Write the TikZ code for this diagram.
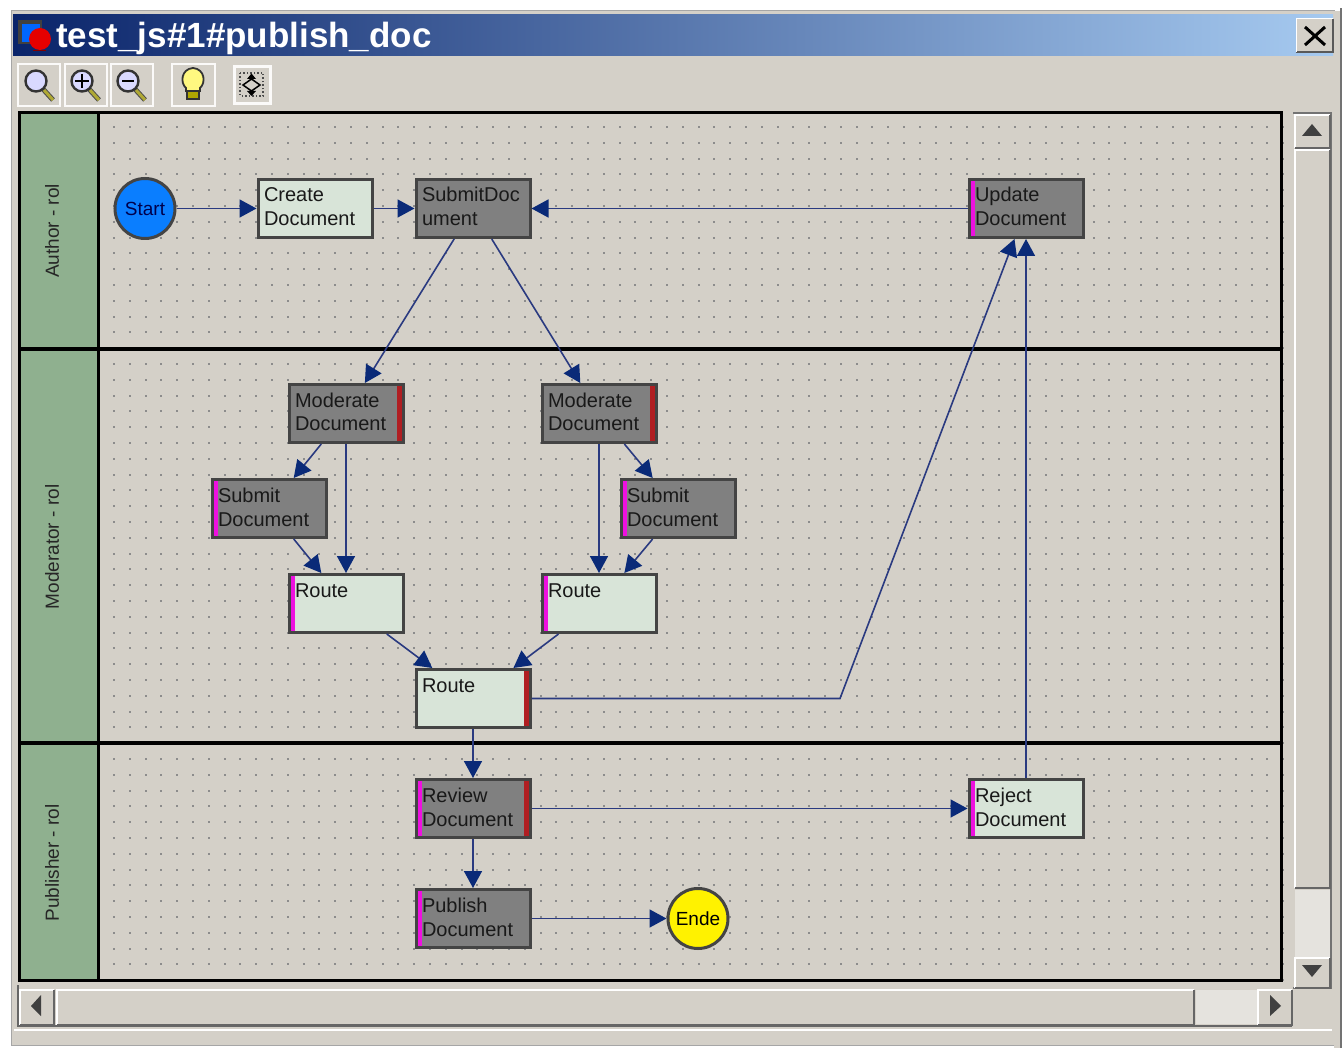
\documentclass[tikz,border=0pt]{standalone}
\usepackage{fontspec}
\setmainfont{Liberation Sans}
\usetikzlibrary{arrows.meta,calc}
\definecolor{winbg}{HTML}{D4D0C8}
\definecolor{lanegreen}{HTML}{8FB08F}
\definecolor{lightbox}{HTML}{D8E4D8}
\definecolor{greybox}{HTML}{808080}
\definecolor{boxline}{HTML}{444444}
\definecolor{flow}{HTML}{2A3A80}
\definecolor{flowhead}{HTML}{0A2A78}
\definecolor{barm}{HTML}{EE10E0}
\definecolor{barr}{HTML}{B01E22}
\definecolor{HTMLnavy}{HTML}{0A246A}
\definecolor{HTMLsky}{HTML}{A6CAF0}
\definecolor{HTMLblue}{HTML}{0A7EFF}
\newcommand{\nt}[2]{\parbox[c][58pt][t]{102pt}{\raggedright\rule{0pt}{22.5pt}#1\\#2}}
\newcommand{\lens}[3]{%
  \draw[line width=5pt,color=black!70] (#1+7,#2+8) -- (#1+17,#2+19);
  \draw[line width=3pt,color=olive!70!white] (#1+8,#2+9) -- (#1+17,#2+19);
  \filldraw[fill=blue!15!white,draw=black!80,line width=2.4pt] (#1,#2) circle (10.5pt);
  #3}
\tikzset{
  task/.style={rectangle,draw=boxline,line width=3pt,minimum width=114pt,minimum height=58pt,inner sep=0pt,text=black!90,
    font=\fontsize{20}{24}\selectfont},
  lighttask/.style={task,fill=lightbox},
  greytask/.style={task,fill=greybox},
  lbar/.style={path picture={\fill[barm] (path picture bounding box.north west) rectangle ([xshift=6pt]path picture bounding box.south west);}},
  rbar/.style={path picture={\fill[barr] (path picture bounding box.north east) rectangle ([xshift=-6pt]path picture bounding box.south east);}},
  lrbar/.style={path picture={\fill[barm] (path picture bounding box.north west) rectangle ([xshift=6pt]path picture bounding box.south west);
     \fill[barr] (path picture bounding box.north east) rectangle ([xshift=-6pt]path picture bounding box.south east);}},
  event/.style={circle,draw=boxline,line width=3pt,minimum size=60pt,inner sep=0pt,font=\fontsize{19}{24}\selectfont},
  flowline/.style={draw=flow,line width=1.6pt,-{Triangle[length=17pt,width=18pt,color=flowhead]}},
  lanelabel/.style={rotate=90,font=\fontsize{19}{22}\selectfont,text=black!85,inner sep=0pt},
}
\begin{document}
\begin{tikzpicture}[x=1pt,y=-1pt]
\useasboundingbox (0,0) rectangle (1344,1048);
\fill[white] (0,0) rectangle (1344,1048);
% window
\fill[winbg] (11,11) rectangle (1334,1045);
\draw[black!35,line width=1pt] (11,11) rectangle (1334,1045);
\fill[black!55] (1339.5,8) rectangle (1342,1048);
\fill[winbg] (1334,11) rectangle (1339.5,1048);
% title bar
\shade[left color=HTMLnavy,right color=HTMLsky] (13,15) rectangle (1333,56);
\fill[black!75] (18,20) rectangle (42,44);
\fill[blue!60!cyan] (22,24) rectangle (40,42);
\fill[red!90!black] (40,39) circle (11pt);
\fill[red!50!black] (33,50) rectangle (46,51);
\node[anchor=base west,inner sep=0pt,text=white,font=\fontsize{35}{38}\selectfont\bfseries] (title) at (56,48) {test\_js\#1\#publish\_doc};
% close button
\fill[winbg] (1296,19) rectangle (1333,52);
\draw[black!65,line width=1.5pt] (1296,52) -- (1333,52) -- (1333,19);
\draw[white,line width=1pt] (1296,52) -- (1296,19) -- (1333,19);
\draw[black,line width=3pt] (1305,27) -- (1325,45) (1325,27) -- (1305,45);
% toolbar
\foreach \a/\b in {18/60,65/107,111/153,172/215}{
  \draw[white!90!winbg,line width=2.5pt] (\a,64) rectangle (\b,106);}
\draw[white!90!winbg,line width=3pt] (234,67) rectangle (270,104);
\lens{36}{81}{}
\lens{82}{81}{\draw[black,line width=2.2pt] (75,81) -- (89,81) (82,74) -- (82,88);}
\lens{128}{81}{\draw[black,line width=2.2pt] (122,81) -- (134,81);}
\filldraw[fill=yellow!50!white,draw=black!80,line width=1.8pt] (186,91) -- (186,88) .. controls (180,83) and (181,69) .. (193,68) .. controls (205,69) and (206,83) .. (200,88) -- (200,91) -- cycle;
\filldraw[fill=olive!70!yellow,draw=black!80,line width=1.3pt] (187,91) rectangle (199,99);
\draw[black!70,line width=1.5pt,dotted] (240,73) rectangle (263,96);
\draw[black,line width=1.5pt] (251.5,79) -- (243,85) -- (251.5,91) -- (260,85) -- cycle;
\fill[black] (251.5,73.5) -- (247,79) -- (256,79) -- cycle (251.5,96) -- (247,91) -- (256,91) -- cycle;
% dots
\foreach \i in {0,...,74}{\foreach \j in {0,...,54}{
  \fill[black!45] ({114+15.8*\i-1},{129+15.8*\j-1}) rectangle +(2,-2);}}
% lane headers and frame
\fill[lanegreen] (19,113) rectangle (98,980);
\draw[black,line width=3pt] (19,113) rectangle (1281,980);
\draw[black,line width=3pt] (98,113) -- (98,980);
\draw[black,line width=4pt] (19,349) -- (1281,349);
\draw[black,line width=4pt] (19,743) -- (1281,743);
\node[lanelabel] (lane1) at (52,231) {Author - rol};
\node[lanelabel] (lane2) at (52,547) {Moderator - rol};
\node[lanelabel] (lane3) at (52,863) {Publisher - rol};
% nodes
\begin{scope}[yshift=-0.5pt]
\node[event,fill=HTMLblue,text=black!70!blue] (start) at (145,208) {Start};
\node[lighttask] (create) at (315,208) {\nt{Create}{Document}};
\node[greytask] (submitdoc) at (473,208) {\nt{SubmitDoc}{ument}};
\node[greytask,lbar] (update) at (1026,208) {\nt{Update}{Document}};
\node[greytask,rbar] (mod1) at (346,413) {\nt{Moderate}{Document}};
\node[greytask,rbar] (mod2) at (599,413) {\nt{Moderate}{Document}};
\node[greytask,lbar] (sub1) at (269,508) {\nt{Submit}{Document}};
\node[greytask,lbar] (sub2) at (678,508) {\nt{Submit}{Document}};
\node[lighttask,lbar] (route1) at (346,603) {\nt{Route}{}};
\node[lighttask,lbar] (route2) at (599,603) {\nt{Route}{}};
\node[lighttask,rbar] (route3) at (473,698) {\nt{Route}{}};
\node[greytask,lrbar] (review) at (473,808) {\nt{Review}{Document}};
\node[lighttask,lbar] (reject) at (1026,808) {\nt{Reject}{Document}};
\node[greytask,lbar] (publish) at (473,918) {\nt{Publish}{Document}};
\node[event,fill=yellow,text=black] (ende) at (698,918) {Ende};
\coordinate (bend) at (840,698);
\end{scope}
% connectors
\draw[flowline] (start) -- (create);
\draw[flowline] (create) -- (submitdoc);
\draw[flowline] (update) -- (submitdoc);
\draw[flowline] (submitdoc) -- (mod1);
\draw[flowline] (submitdoc) -- (mod2);
\draw[flowline] (mod1) -- (sub1);
\draw[flowline] (mod1) -- (route1);
\draw[flowline] (sub1) -- (route1);
\draw[flowline] (mod2) -- (sub2);
\draw[flowline] (mod2) -- (route2);
\draw[flowline] (sub2) -- (route2);
\draw[flowline] (route1) -- (route3);
\draw[flowline] (route2) -- (route3);
\draw[flowline] (route3) -- (bend) -- (update);
\draw[flowline] (route3) -- (review);
\draw[flowline] (review) -- (reject);
\draw[flowline] (reject) -- (update);
\draw[flowline] (review) -- (publish);
\draw[flowline] (publish) -- (ende);
% scrollbars
\draw[black!55,line width=2pt] (1293,113) -- (1331,113) -- (1331,988) -- (1293,988) ;
\foreach \a/\b in {115/148,150/888,958/988}{
  \fill[winbg] (1295,\a) rectangle (1330,\b);
  \draw[white,line width=1.2pt] (1295,\b) -- (1295,\a) -- (1330,\a);
  \draw[black!60,line width=2pt] (1295,\b) -- (1330,\b) -- (1330,\a);}
\fill[winbg!60!white] (1295,890) rectangle (1330,957);
\fill[black!75] (1312,124) -- (1302,136) -- (1322,136) -- cycle;
\fill[black!75] (1312,977) -- (1302,965) -- (1322,965) -- cycle;
\foreach \a/\b in {20/54,57/1194,1258/1292}{
  \fill[winbg] (\a,990) rectangle (\b,1025);
  \draw[white,line width=1.2pt] (\a,1025) -- (\a,990) -- (\b,990);
  \draw[black!60,line width=2pt] (\a,1025) -- (\b,1025) -- (\b,990);}
\fill[winbg!60!white] (1196,990) rectangle (1257,1024);
\fill[black!75] (31,1006) -- (41,995) -- (41,1016) -- cycle;
\fill[black!75] (1281,1006) -- (1270,995) -- (1270,1016) -- cycle;
\draw[black!60,line width=2pt] (18,985) -- (18,1026) -- (1292,1026);
\draw[white,line width=1.5pt] (14,1030) -- (1332,1030);
\end{tikzpicture}
\end{document}
